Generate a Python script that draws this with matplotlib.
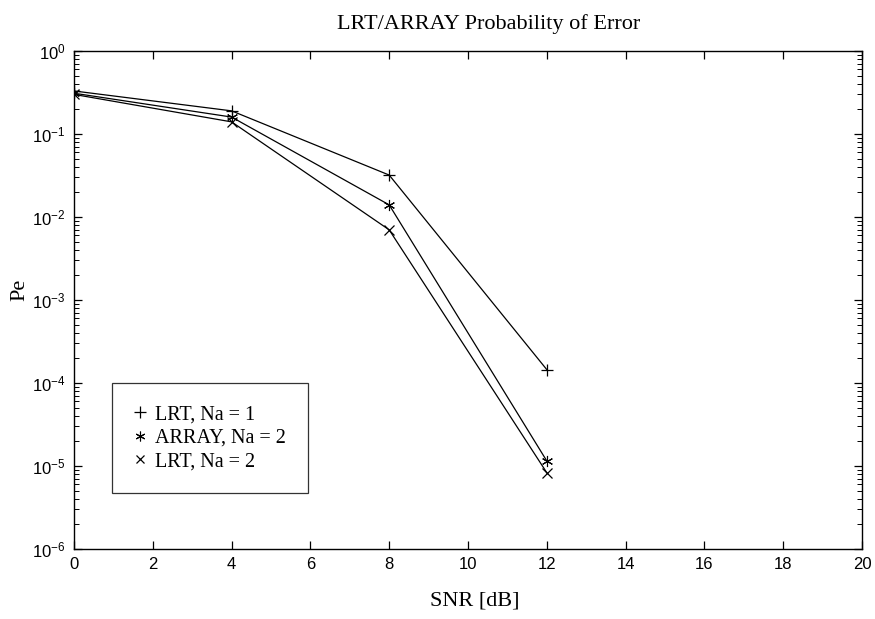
import matplotlib
matplotlib.use("Agg")
import matplotlib.pyplot as plt
from matplotlib.lines import Line2D
from matplotlib.ticker import LogLocator, NullFormatter

# ── Data ────────────────────────────────────────────────────────────────────
snr_db = [0, 4, 8, 12]
pe_lrt_na1 = [0.33, 0.19, 0.032, 1.45e-4]
pe_array_na2 = [0.31, 0.16, 0.014, 1.15e-5]
pe_lrt_na2 = [0.30, 0.14, 0.007, 8.3e-6]
labels = ["LRT, Na = 1", "ARRAY, Na = 2", "LRT, Na = 2"]

serif = ["Liberation Serif", "DejaVu Serif"]
sans = ["Liberation Sans", "DejaVu Sans"]
asterisk = (6, 2, 0)

fig = plt.figure(figsize=(8.75, 6.19), dpi=100)
ax = fig.add_axes([74 / 875, 1 - 549 / 619, (862 - 74) / 875, (549 - 51) / 619])

ax.plot(snr_db, pe_lrt_na1, color="black", lw=0.9, marker="+", ms=8, mew=0.9)
ax.plot(snr_db, pe_array_na2, color="black", lw=0.9, marker=asterisk, ms=8, mew=0.8)
ax.plot(snr_db, pe_lrt_na2, color="black", lw=0.9, marker="x", ms=7, mew=0.9)

ax.set_yscale("log")
ax.set_xlim(0, 20)
ax.set_ylim(1e-6, 1)
ax.set_xticks(range(0, 21, 2))
ax.yaxis.set_major_locator(LogLocator(base=10, numticks=10))
ax.yaxis.set_minor_locator(LogLocator(base=10, subs=range(2, 10), numticks=10))
ax.yaxis.set_minor_formatter(NullFormatter())

ax.tick_params(which="both", direction="in", top=True, right=True)
ax.tick_params(which="major", length=6, width=0.9, labelsize=12, pad=6)
ax.tick_params(which="minor", length=3.5, width=0.7)
for lab in ax.get_xticklabels() + ax.get_yticklabels():
    lab.set_family(sans)
for sp in ax.spines.values():
    sp.set_linewidth(1.0)

fig.text(489 / 875, 1 - 24 / 619, "LRT/ARRAY Probability of Error",
         ha="center", va="center", family=serif, fontsize=16)
fig.text(475 / 875, 1 - 601 / 619, "SNR [dB]",
         ha="center", va="center", family=serif, fontsize=16)
fig.text(20 / 875, 1 - 290 / 619, "Pe", rotation=90,
         ha="center", va="center", family=serif, fontsize=16)

handles = [
    Line2D([], [], ls="none", color="black", marker="+", ms=8, mew=0.9),
    Line2D([], [], ls="none", color="black", marker=asterisk, ms=7, mew=0.8),
    Line2D([], [], ls="none", color="black", marker="x", ms=6, mew=0.9),
]
leg = ax.legend(handles, labels, loc="upper left",
                bbox_to_anchor=(112 / 875, 1 - 383 / 619),
                bbox_transform=fig.transFigure,
                prop={"family": serif, "size": 14.5},
                handlelength=0.6, handletextpad=0.45, labelspacing=0.22,
                borderpad=1.1, borderaxespad=0, fancybox=False)
leg.get_frame().set_edgecolor("black")
leg.get_frame().set_linewidth(0.9)

fig.savefig("out.png", dpi=100)
